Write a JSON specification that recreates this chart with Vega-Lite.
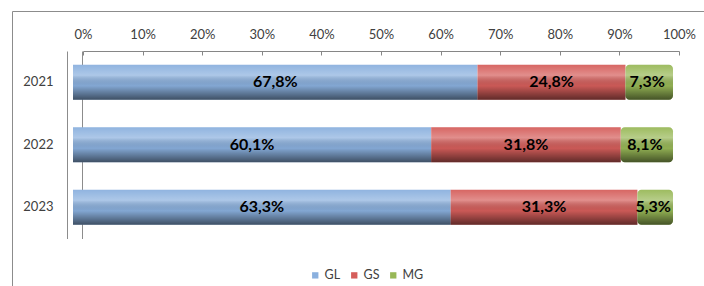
{
  "$schema": "https://vega.github.io/schema/vega-lite/v6.json",
  "autosize": "none",
  "padding": {"left": 12, "top": 11, "right": -3, "bottom": -3},
  "width": 695,
  "height": 278,
  "config": {
    "locale": {"number": {"decimal": ",", "thousands": ".", "grouping": [3], "currency": ["", " €"]}},
    "view": {"stroke": "#8c8c8c", "strokeWidth": 1},
    "font": "Lato"
  },
  "data": {
    "values": [
      {"year": "2021", "s": "GL", "v": 0.678},
      {"year": "2021", "s": "GS", "v": 0.248},
      {"year": "2021", "s": "MG", "v": 0.073},
      {"year": "2022", "s": "GL", "v": 0.601},
      {"year": "2022", "s": "GS", "v": 0.318},
      {"year": "2022", "s": "MG", "v": 0.081},
      {"year": "2023", "s": "GL", "v": 0.633},
      {"year": "2023", "s": "GS", "v": 0.313},
      {"year": "2023", "s": "MG", "v": 0.053}
    ]
  },
  "transform": [
    {"stack": "v", "groupby": ["year"], "sort": [{"field": "s", "order": "ascending"}], "offset": "normalize", "as": ["x0", "x1"]}
  ],
  "encoding": {
    "y": {
      "field": "year", "type": "nominal", "sort": ["2021", "2022", "2023"],
      "scale": {"range": [40, 227.5], "paddingInner": 0.44, "paddingOuter": 0.22}
    }
  },
  "resolve": {"axis": {"y": "independent"}},
  "layer": [
    {
      "transform": [{"filter": "datum.s !== 'MG'"}],
      "mark": {"type": "bar", "xOffset": -10, "x2Offset": -10, "stroke": null},
      "encoding": {
        "x": {
          "field": "x0", "type": "quantitative",
          "scale": {"domain": [0, 1], "range": [71, 667], "nice": false},
          "axis": {
            "orient": "top", "offset": -40, "title": null, "format": ".0%",
            "values": [0, 0.1, 0.2, 0.3, 0.4, 0.5, 0.6, 0.7, 0.8, 0.9, 1],
            "grid": false, "tickSize": -4, "labelPadding": 14, "labelFlush": false,
            "domainColor": "#868686", "tickColor": "#868686",
            "labelFontSize": 13, "labelColor": "#404040", "labelFont": "Lato"
          }
        },
        "x2": {"field": "x1"},
        "y": {
          "field": "year", "type": "nominal", "sort": ["2021", "2022", "2023"],
          "axis": {
            "orient": "left", "offset": -55, "title": null, "ticks": false,
            "labelPadding": 14, "domainColor": "#8c8c8c",
            "labelFontSize": 13, "labelColor": "#404040", "labelFont": "Lato"
          }
        },
        "color": {
          "field": "s", "type": "nominal",
          "scale": {"domain": ["GL", "GS", "MG"], "range": ["#8AB0DE", "#D55E5B", "#98B857"]},
          "legend": {
            "orient": "none", "legendX": 297, "legendY": 258, "direction": "horizontal",
            "title": null, "symbolType": "square", "symbolSize": 40, "symbolStrokeWidth": 0,
            "labelFontSize": 12.5, "labelColor": "#404040", "labelFont": "Lato",
            "labelOffset": 3, "columnPadding": 7
          }
        }
      }
    },
    {
      "transform": [{"filter": "datum.s === 'MG'"}],
      "mark": {"type": "bar", "xOffset": -10, "x2Offset": -6, "stroke": null, "cornerRadiusEnd": 4},
      "encoding": {
        "x": {"field": "x0", "type": "quantitative"},
        "x2": {"field": "x1"},
        "y": {"field": "year", "type": "nominal", "sort": ["2021", "2022", "2023"], "axis": null},
        "color": {"field": "s", "type": "nominal"}
      }
    },
    {
      "transform": [{"filter": "datum.s !== 'MG'"}],
      "mark": {
        "type": "bar", "xOffset": -10, "x2Offset": -10, "stroke": null,
        "color": {
          "gradient": "linear", "x1": 0, "y1": 0, "x2": 0, "y2": 1,
          "stops": [
            {"offset": 0, "color": "rgba(255,255,255,0.05)"},
            {"offset": 0.3, "color": "rgba(255,255,255,0.3)"},
            {"offset": 0.6, "color": "rgba(0,0,0,0.05)"},
            {"offset": 1, "color": "rgba(0,0,0,0.55)"}
          ]
        }
      },
      "encoding": {
        "x": {"field": "x0", "type": "quantitative"},
        "x2": {"field": "x1"},
        "y": {
          "field": "year", "type": "nominal", "sort": ["2021", "2022", "2023"],
          "axis": {
            "orient": "left", "offset": -70, "title": null, "ticks": false,
            "labels": false, "domainColor": "#8c8c8c"
          }
        }
      }
    },
    {
      "transform": [{"filter": "datum.s === 'MG'"}],
      "mark": {
        "type": "bar", "xOffset": -10, "x2Offset": -6, "stroke": null, "cornerRadiusEnd": 4,
        "color": {
          "gradient": "linear", "x1": 0, "y1": 0, "x2": 0, "y2": 1,
          "stops": [
            {"offset": 0, "color": "rgba(255,255,255,0.05)"},
            {"offset": 0.3, "color": "rgba(255,255,255,0.3)"},
            {"offset": 0.6, "color": "rgba(0,0,0,0.05)"},
            {"offset": 1, "color": "rgba(0,0,0,0.55)"}
          ]
        }
      },
      "encoding": {
        "x": {"field": "x0", "type": "quantitative"},
        "x2": {"field": "x1"},
        "y": {"field": "year", "type": "nominal", "sort": ["2021", "2022", "2023"], "axis": null}
      }
    },
    {
      "mark": {"type": "text", "dx": -10, "fontWeight": "bold", "fontSize": 16, "color": "#000000", "font": "Lato"},
      "encoding": {
        "x": {"field": "v", "type": "quantitative", "stack": "normalize", "bandPosition": 0.5},
        "y": {"field": "year", "type": "nominal", "sort": ["2021", "2022", "2023"], "axis": null},
        "detail": {"field": "s", "type": "nominal"},
        "order": {"field": "s", "type": "nominal", "sort": "ascending"},
        "text": {"field": "v", "type": "quantitative", "format": ".1%"}
      }
    }
  ]
}
